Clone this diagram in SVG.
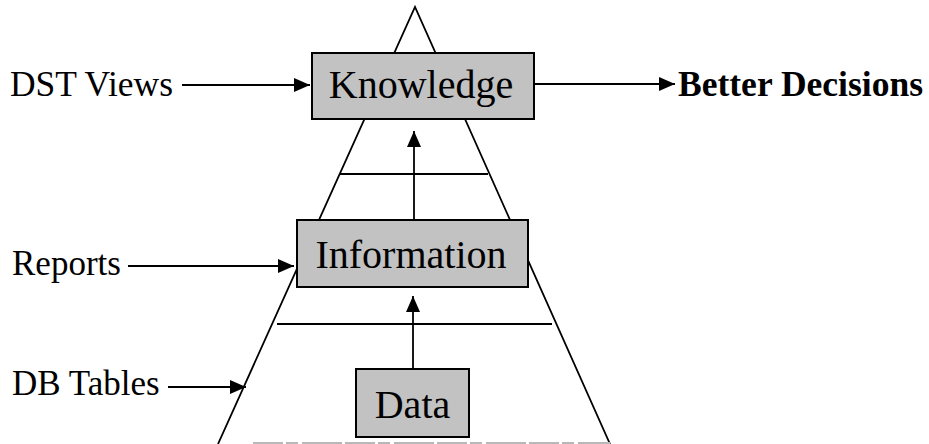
<svg xmlns="http://www.w3.org/2000/svg" width="929" height="444" viewBox="0 0 929 444">
<style>
  .ln { stroke: #000; stroke-width: 1.8; fill: none; }
  .box { fill: #c2c2c2; stroke: #000; stroke-width: 2; }
  .big { font-family: "Liberation Serif", "Times New Roman", serif; font-size: 40px; fill: #000; text-anchor: middle; }
  .lbl { font-family: "Liberation Serif", "Times New Roman", serif; font-size: 35px; fill: #000; }
  .bold { font-weight: bold; }
</style>
<defs>
  <marker id="ah" viewBox="0 0 10 10" refX="10" refY="5" markerWidth="8" markerHeight="8" markerUnits="userSpaceOnUse" orient="auto">
    <path d="M0,0 L10,5 L0,10 z" fill="#000"/>
  </marker>
  <marker id="ahb" viewBox="0 0 16 14" refX="16" refY="7" markerWidth="16" markerHeight="14" markerUnits="userSpaceOnUse" orient="auto">
    <path d="M0,0 L16,7 L0,14 z" fill="#000"/>
  </marker>
</defs>
<rect width="929" height="444" fill="#fff"/>
<g id="pyramid">
  <polyline class="ln" points="218,444 415,7 610,444"/>
  <line class="ln" x1="340" y1="174" x2="488" y2="174"/>
  <line class="ln" x1="277" y1="324" x2="552" y2="324"/>
  <line x1="253" y1="443" x2="610" y2="443" stroke="#b8b8b8" stroke-width="2" stroke-dasharray="30,3,12,4,40,3"/>
</g>
<g id="connectors">
  <line class="ln" x1="182" y1="85" x2="310" y2="85" marker-end="url(#ahb)"/>
  <line class="ln" x1="534" y1="84" x2="675" y2="84" marker-end="url(#ahb)"/>
  <line class="ln" x1="128" y1="266" x2="294" y2="266" marker-end="url(#ahb)"/>
  <line class="ln" x1="168" y1="387" x2="246" y2="387" marker-end="url(#ahb)"/>
  <line class="ln" x1="414" y1="220" x2="414" y2="131" marker-end="url(#ahb)"/>
  <line class="ln" x1="413" y1="369" x2="413" y2="296" marker-end="url(#ahb)"/>
</g>
<g id="knowledge">
  <rect class="box" x="312" y="53" width="222" height="66"/>
  <text class="big" x="421" y="98">Knowledge</text>
</g>
<g id="information">
  <rect class="box" x="297" y="220" width="231" height="67"/>
  <text class="big" x="411" y="268">Information</text>
</g>
<g id="data">
  <rect class="box" x="356" y="369" width="113" height="68"/>
  <text class="big" x="412.5" y="418">Data</text>
</g>
<g id="dst-views">
  <text class="lbl" x="10" y="96" textLength="163" lengthAdjust="spacingAndGlyphs">DST Views</text>
</g>
<g id="better-decisions">
  <text class="lbl bold" x="678" y="96" textLength="245" lengthAdjust="spacingAndGlyphs">Better Decisions</text>
</g>
<g id="reports">
  <text class="lbl" x="12" y="275">Reports</text>
</g>
<g id="db-tables">
  <text class="lbl" x="12" y="395">DB Tables</text>
</g>
</svg>
